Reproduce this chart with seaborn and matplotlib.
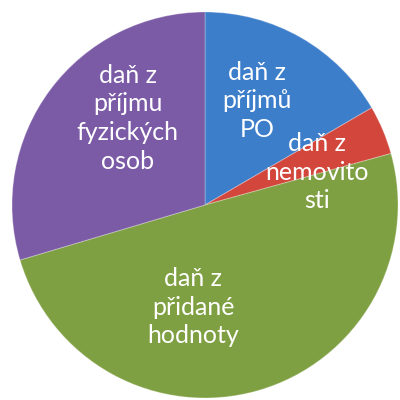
import numpy as np
import matplotlib
matplotlib.use("Agg")
import matplotlib.pyplot as plt
import seaborn as sns

# Podíly daňových příjmů (v %)
kategorie = ["daň z příjmů PO", "daň z nemovitosti", "daň z přidané hodnoty",
             "daň z příjmu fyzických osob"]
podily = [16.6, 4.1, 49.7, 29.6]
popisky = ["daň z\npříjmů\nPO", "daň z\nnemovito\nsti", "daň z\npřidané\nhodnoty",
           "daň z\npříjmu\nfyzických\nosob"]
barvy = ["#3d7ecb", "#d2463c", "#7fa042", "#7b5ba6"]

# pozice popisků (x, y v jednotkách poloměru)
pozice_popisku = [(0.27, 0.54), (0.58, 0.17), (-0.06, -0.53), (-0.40, 0.45)]

sns.set_theme(style="white")
plt.rcParams["font.family"] = ["Lato", "DejaVu Sans"]

fig = plt.figure(figsize=(4, 4), dpi=100)
ax = fig.add_axes([0.03, 0.005, 0.965, 0.965])

wedges, _ = ax.pie(podily, colors=barvy, startangle=90, counterclock=False,
                   radius=1, wedgeprops=dict(linewidth=0.8, edgecolor="#ffffff40"))

for text, (x, y) in zip(popisky, pozice_popisku):
    ax.text(x, y, text, ha="center", va="center", color="white",
            fontsize=18, linespacing=1.3)

ax.set_xlim(-1, 1)
ax.set_ylim(-1, 1)
ax.set_aspect("equal")
ax.axis("off")

fig.savefig("out.png", dpi=100)
